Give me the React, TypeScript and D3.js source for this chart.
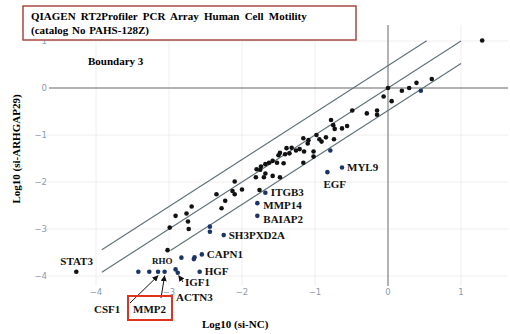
import React from 'react';
import * as d3 from 'd3';

// black dots: [log10(si-NC), log10(si-ARHGAP29)]
const blackX = [1.29, 0, -0.06, 0.05, 0.19, 0.29, 0.39, 0.60, -0.15, -0.15, -0.29, -0.49, -0.78, -0.73, -0.63, -0.56, -0.75,
  -1.16, -1.09, -1.10, -0.94, -0.91, -0.85, -0.74, -1.26, -1.21, -1.15, -1.02, -1.02, -1.32, -0.98, -1.16,
  -1.39, -1.35, -1.41, -1.48, -1.50, -1.58, -1.63, -1.52, -1.68, -1.74, -1.80, -1.75, -1.68, -1.70, -1.58, -1.48, -1.81, -1.43,
  -2.10, -2.13, -2.10, -2.00, -2.35, -2.23, -2.28, -1.76,
  -2.69, -2.76, -2.91, -2.74, -2.99, -2.73, -3.02, -4.27];
const blackY = [1.01, 0, -0.18, -0.28, -0.06, 0.0, 0.11, 0.19, -0.48, -0.57, -0.54, -0.48, -0.68, -0.87, -0.86, -0.81, -0.79,
  -1.07, -1.11, -1.18, -1.09, -1.14, -1.05, -1.09, -1.33, -1.30, -1.35, -1.35, -1.46, -1.27, -1.00, -1.59,
  -1.28, -1.39, -1.41, -1.38, -1.43, -1.55, -1.59, -1.59, -1.62, -1.67, -1.73, -1.74, -1.82, -1.90, -1.87, -1.90, -1.90, -1.60,
  -1.99, -2.19, -2.26, -2.16, -2.26, -2.40, -2.56, -2.17,
  -2.52, -2.67, -2.72, -2.84, -2.97, -3.00, -3.45, -3.91];

// blue (changed) dots
const blueX = [0.45, -0.79, -0.63, -0.83, -1.68, -1.79, -1.79, -2.44, -2.44, -2.25, -2.55, -2.65, -2.66, -2.83, -2.58, -2.91, -2.88, -3.42, -3.27, -3.15, -3.06];
const blueY = [-0.06, -1.33, -1.69, -1.79, -2.23, -2.45, -2.72, -2.95, -3.06, -3.13, -3.54, -3.60, -3.64, -3.61, -3.91, -3.86, -3.93, -3.91, -3.91, -3.91, -3.91];

// gene labels and the dot each one belongs to
const geneNames = ['MYL9', 'EGF', 'ITGB3', 'MMP14', 'BAIAP2', 'SH3PXD2A', 'CAPN1', 'HGF', 'STAT3'];
const geneX = [-0.63, -0.83, -1.68, -1.79, -1.79, -2.25, -2.55, -2.58, -4.27];
const geneY = [-1.69, -1.79, -2.23, -2.45, -2.72, -3.13, -3.54, -3.91, -3.91];

const xTicks = [-4, -3, -2, -1, 0, 1];
const yTicks = [-4, -3, -2, -1, 0, 1];
const foldBand = Math.log10(3);

export default function App() {
  const width = 510;
  const height = 334;

  const x = d3.scaleLinear().domain([-4, 1]).range([96, 461]);
  const y = d3.scaleLinear().domain([-4, 0]).range([276, 88]);

  const left = 45, right = 508, top = 25, bottom = 286;

  // label offsets from their dots (px)
  const offsets: [number, number][] = [[5, 4], [-4, 16], [5.5, 3.5], [6, 6], [6, 7], [5, 3.5], [5, 3.5], [5, 3.5], [-16, -7]];

  const line = d3.line<[number, number]>().x(d => x(d[0])).y(d => y(d[1]));
  const diagonals: [number, number][][] = [
    [[-3.92, -3.92 + foldBand], [0.53, 0.53 + foldBand]],
    [[-3.92, -3.92], [1.0, 1.0]],
    [[-2.98, -2.98 - foldBand], [1.0, 1.0 - foldBand]],
  ];

  const serif = '"Liberation Serif", "Times New Roman", serif';
  const tickColor = '#8a9bb0';

  const arrow = (x1: number, y1: number, x2: number, y2: number, k: string) => (
    <line key={k} x1={x1} y1={y1} x2={x2} y2={y2} stroke="#111" strokeWidth={1} markerEnd="url(#head)" />
  );

  return (
    <svg width={width} height={height} style={{ position: 'absolute', left: 0, top: 0, background: '#fff' }}>
      <defs>
        <marker id="head" viewBox="0 0 10 10" refX="9" refY="5" markerWidth="6" markerHeight="6" orient="auto">
          <path d="M0,0 L10,5 L0,10 z" fill="#111" />
        </marker>
      </defs>

      {/* faint grid */}
      <g stroke="#f1ecec" strokeWidth={1}>
        {xTicks.filter(t => t !== 0).map(t => <line key={'gx' + t} x1={x(t)} x2={x(t)} y1={top} y2={bottom} />)}
        {yTicks.filter(t => t !== 0).map(t => <line key={'gy' + t} y1={y(t)} y2={y(t)} x1={left} x2={right} />)}
      </g>

      {/* zero axes */}
      <line x1={left + 4} x2={right} y1={y(0)} y2={y(0)} stroke="#9a9a9a" strokeWidth={1.5} />
      <line x1={x(0)} x2={x(0)} y1={top} y2={bottom} stroke="#9a9a9a" strokeWidth={1.5} />

      {/* tick labels */}
      <g fontFamily='"DejaVu Sans", sans-serif' fontSize={8.5} fill={tickColor}>
        {xTicks.map(t => (
          <text key={'tx' + t} x={x(t)} y={295} textAnchor="middle">{t < 0 ? '\u2212' + Math.abs(t) : t}</text>
        ))}
        {yTicks.map(t => (
          <text key={'ty' + t} x={47} y={y(t) + 3} textAnchor="end">{t < 0 ? '\u2212' + Math.abs(t) : t}</text>
        ))}
      </g>

      {/* fold-change boundaries */}
      {diagonals.map((d, i) => (
        <path key={'d' + i} d={line(d) || ''} fill="none" stroke="#5f7078" strokeWidth={1.1} />
      ))}

      {/* dots */}
      {blackX.map((v, i) => <circle key={'b' + i} cx={x(v)} cy={y(blackY[i])} r={2.3} fill="#111" />)}
      {blueX.map((v, i) => <circle key={'u' + i} cx={x(v)} cy={y(blueY[i])} r={2.3} fill="#1d3566" />)}

      {/* gene labels */}
      <g fontFamily={serif} fontWeight="bold" fontSize={11} fill="#111">
        {geneNames.map((g, i) => (
          <text key={g} x={x(geneX[i]) + offsets[i][0]} y={y(geneY[i]) + offsets[i][1]}>{g}</text>
        ))}
        <text x={185} y={286}>IGF1</text>
        <text x={176} y={301}>ACTN3</text>
        <text x={94} y={313}>CSF1</text>
        <text x={133} y={313}>MMP2</text>
        <text x={152} y={264} fontSize={9}>RHO</text>
      </g>
      {arrow(183, 282, x(-2.88) + 1, y(-3.93) + 3, 'a1')}
      {arrow(130, 303, x(-3.15), y(-3.91) + 4, 'a2')}
      {arrow(161, 298, x(-3.06), y(-3.91) + 4, 'a3')}

      <rect x={128} y={296} width={44} height={24} fill="none" stroke="#e2321f" strokeWidth={2} />

      <text x={88} y={65} fontFamily={serif} fontWeight="bold" fontSize={11}>Boundary 3</text>

      {/* axis titles */}
      <text x={202} y={328} fontFamily={serif} fontWeight="bold" fontSize={11}>Log10 (si-NC)</text>
      <text transform="translate(20,149) rotate(-90)" textAnchor="middle" fontFamily={serif} fontWeight="bold" fontSize={11}>Log10 (si-ARHGAP29)</text>

      {/* title box */}
      <rect x={23} y={6} width={333} height={34} fill="#fff" stroke="#a8483e" strokeWidth={1.5} />
      <text x={31} y={20} fontFamily={serif} fontWeight="bold" fontSize={11} wordSpacing={2.5}>QIAGEN RT2Profiler PCR Array Human Cell Motility</text>
      <text x={31} y={34} fontFamily={serif} fontWeight="bold" fontSize={11} wordSpacing={1}>(catalog No PAHS-128Z)</text>
    </svg>
  );
}
